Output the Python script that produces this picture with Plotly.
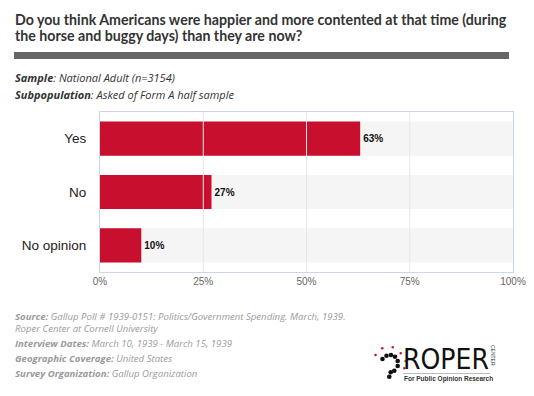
import plotly.graph_objects as go

categories = ["Yes", "No", "No opinion"]
values = [63, 27, 10]
tick_vals = [0, 25, 50, 75, 100]
tick_text = ["0%", "25%", "50%", "75%", "100%"]
grid_vals = [25, 50, 75]
full_scale = [100, 100, 100]

title_lines = ["Do you think Americans were happier and more contented at that time (during",
               "the horse and buggy days) than they are now?"]
sample_text = "<b>Sample</b>: National Adult (n=3154)"
subpop_text = "<b>Subpopulation</b>: Asked of Form A half sample"
footer_lines = [
    "<b>Source:</b> Gallup Poll # 1939-0151: Politics/Government Spending. March, 1939.<br>"
    "Roper Center at Cornell University",
    "<b>Interview Dates:</b> March 10, 1939 - March 15, 1939",
    "<b>Geographic Coverage:</b> United States",
    "<b>Survey Organization:</b> Gallup Organization",
]

W, H = 534, 396
L, R, T, B = 100, 21, 112, 124
PW, PH = W - L - R, H - T - B


def px(x):
    return (x - L) / PW


def py(y):
    return (H - B - y) / PH


fig = go.Figure()
fig.add_trace(go.Bar(y=categories, x=full_scale, orientation="h",
                     marker=dict(color="#f5f5f5", line=dict(width=0)),
                     hoverinfo="skip", showlegend=False))
fig.add_trace(go.Bar(y=categories, x=values, orientation="h",
                     marker=dict(color="#c8102e", line=dict(width=0)),
                     texttemplate="<b>%{x}%</b>", textposition="outside",
                     textfont=dict(family="Liberation Sans, Arial", size=10, color="#111"),
                     cliponaxis=False, showlegend=False))

ann = []
ann.append(dict(text="<b>" + title_lines[0] + "</b>", x=px(13), y=py(19), xanchor="left", yanchor="middle",
                font=dict(family="Lato", size=14.2, color="#333")))
ann.append(dict(text="<b>" + title_lines[1] + "</b>", x=px(13), y=py(36), xanchor="left", yanchor="middle",
                font=dict(family="Lato", size=14.2, color="#333")))
ann.append(dict(text="<i>" + sample_text + "</i>", x=px(13), y=py(77), xanchor="left", yanchor="middle",
                font=dict(family="Open Sans", size=11, color="#333")))
ann.append(dict(text="<i>" + subpop_text + "</i>", x=px(13), y=py(94), xanchor="left", yanchor="middle",
                font=dict(family="Open Sans", size=11, color="#333")))
fy = [322.5, 343, 358, 373]
for t, yy in zip(footer_lines, fy):
    ann.append(dict(text="<i>" + t + "</i>", x=px(13), y=py(yy), xanchor="left", yanchor="middle",
                    align="left", font=dict(family="Open Sans", size=9.6, color="#9a9a9a")))
# logo text
ann.append(dict(text="ROPER", x=px(401), y=py(359), xanchor="left", yanchor="middle",
                font=dict(family="DejaVu Sans Condensed", size=28, color="#111")))
ann.append(dict(text="<b>For Public Opinion Research</b>", x=px(402), y=py(379), xanchor="left", yanchor="middle",
                font=dict(family="Liberation Sans", size=6.5, color="#333")))
ann.append(dict(text="CENTER", x=px(493), y=py(355), xanchor="center", yanchor="middle", textangle=90,
                font=dict(family="Liberation Sans", size=5, color="#333")))
for a in ann:
    a.update(xref="paper", yref="paper", showarrow=False)

shapes = []
shapes.append(dict(type="rect", xref="paper", yref="paper", x0=px(14), x1=px(509), y0=py(52), y1=py(59),
                   fillcolor="#666666", line=dict(width=0)))
# gridlines above bars
for g in grid_vals:
    shapes.append(dict(type="line", xref="x", yref="paper", x0=g, x1=g, y0=0, y1=1,
                       line=dict(color="#e6e6e6", width=1), layer="above"))
# logo under-line
shapes.append(dict(type="line", xref="paper", yref="paper", x0=px(403), x1=px(490), y0=py(373.5), y1=py(373.5),
                   line=dict(color="#bbb", width=1)))
black_dots = [(382.5, 359), (386.5, 355.7), (391, 355), (395, 356.7), (397.7, 361), (397.7, 366),
              (394.3, 370.7), (390.7, 372.3), (389.3, 376.7)]
red_dots = [(382.3, 348.3), (375.5, 355), (392.7, 347.3), (400.7, 353.3), (405.7, 361), (404.3, 368.3)]
for (cx, cy) in black_dots:
    r = 2.3
    shapes.append(dict(type="circle", xref="paper", yref="paper", x0=px(cx - r), x1=px(cx + r),
                       y0=py(cy - r), y1=py(cy + r), fillcolor="#111", line=dict(width=0)))
for (cx, cy) in red_dots:
    r = 1.3
    shapes.append(dict(type="circle", xref="paper", yref="paper", x0=px(cx - r), x1=px(cx + r),
                       y0=py(cy - r), y1=py(cy + r), fillcolor="#d0103a", line=dict(width=0)))

fig.update_layout(
    width=W, height=H, margin=dict(l=L, r=R, t=T, b=B, autoexpand=False),
    paper_bgcolor="white", plot_bgcolor="white",
    barmode="overlay", bargap=0.36,
    annotations=ann, shapes=shapes,
    xaxis=dict(range=[0, 100], tickvals=tick_vals, ticktext=tick_text, showgrid=False,
               zeroline=False, showline=True, linecolor="#ccd6eb",
               mirror=True, ticks="",
               tickfont=dict(family="Liberation Sans, Arial", size=10, color="#666")),
    yaxis=dict(autorange="reversed", showgrid=False, zeroline=False, showline=True, linecolor="#ccd6eb",
               mirror=True, ticks="", ticklabelstandoff=10,
               tickfont=dict(family="Liberation Sans, Arial", size=13.5, color="#222")),
)

fig.write_html("out.html", config={"displayModeBar": False},
               post_script="document.body.style.margin='0px';")
